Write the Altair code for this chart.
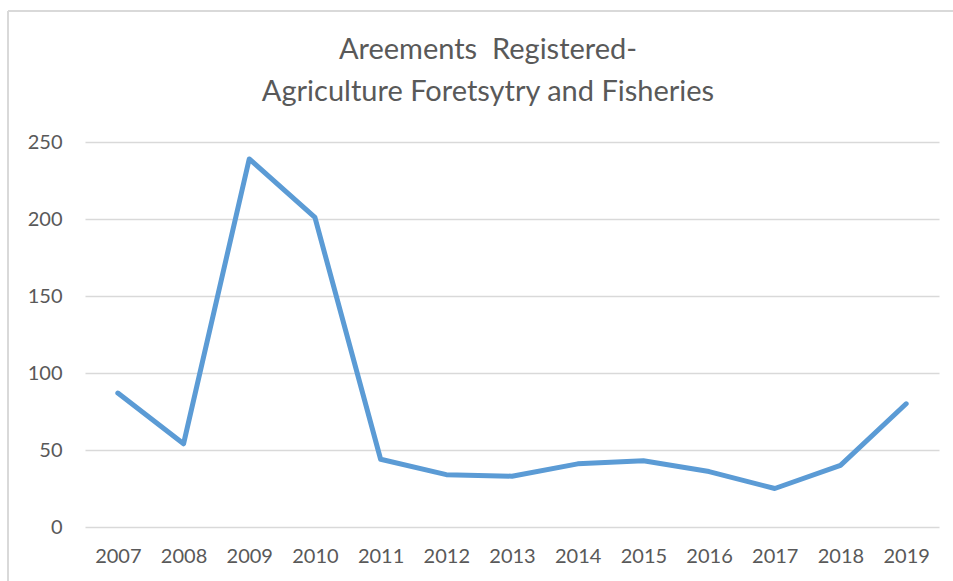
import altair as alt
import pandas as pd

years = ["2007", "2008", "2009", "2010", "2011", "2012", "2013",
         "2014", "2015", "2016", "2017", "2018", "2019"]
values = [87, 54, 239, 201, 44, 34, 33, 41, 43, 36, 25, 40, 80]
title_lines = ["Areements\u00a0 Registered-", "Agriculture Foretsytry and Fisheries"]
y_ticks = [0, 50, 100, 150, 200, 250]

df = pd.DataFrame({"year": years, "value": values})

FONT = "Lato"
TXT = "#595959"
GRID = "#d9d9d9"

line = alt.Chart(df).mark_line(
    color="#5b9bd5", strokeWidth=5, strokeCap="round", strokeJoin="round"
).encode(
    x=alt.X("year:O", sort=years, title=None,
            scale=alt.Scale(paddingInner=0, paddingOuter=0.5, align=0.5),
            axis=alt.Axis(labelAngle=0, domain=False, ticks=False, grid=False,
                          labelFont=FONT, labelFontSize=20, labelColor=TXT,
                          labelPadding=19)),
    y=alt.Y("value:Q", title=None,
            scale=alt.Scale(domain=[0, 250], nice=False),
            axis=alt.Axis(values=y_ticks, domain=False, ticks=False,
                          gridColor=GRID, gridWidth=1.5,
                          labelFont=FONT, labelFontSize=20, labelColor=TXT,
                          labelPadding=23)),
)

# chart frame (decorative border like the spreadsheet chart area)
frame_left = alt.Chart(df).mark_rule(color=GRID, strokeWidth=2).encode(
    x=alt.value(-77), y=alt.value(-131), y2=alt.value(460))
frame_top = alt.Chart(df).mark_rule(color=GRID, strokeWidth=2).encode(
    x=alt.value(-77), x2=alt.value(900), y=alt.value(-131))

chart = alt.layer(frame_left, frame_top, line).properties(
    width=854, height=385,
    autosize=alt.AutoSizeParams(type="none"),
    padding={"left": 85, "top": 142, "right": 14, "bottom": 54},
    title=alt.TitleParams(
        text=title_lines, font=FONT, fontSize=29, fontWeight="normal",
        color=TXT, anchor="middle", dx=-24, lineHeight=42, offset=-97),
).configure(background="white").configure_view(stroke=None)

chart.save("out.html", embed_options={"renderer": "svg", "actions": False})
